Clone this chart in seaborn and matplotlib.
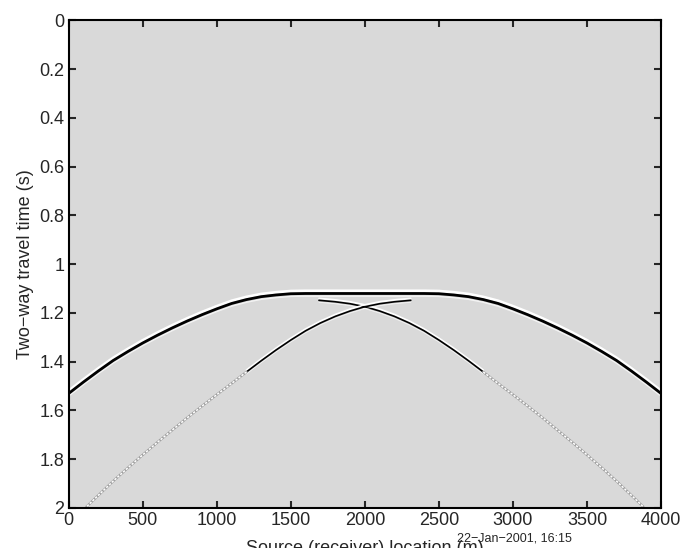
import matplotlib
matplotlib.use("Agg")
import seaborn as sns
from matplotlib import pyplot as plt

# main reflection (source/receiver location in m, two-way time in s)
main_x = [0, 100, 200, 300, 400, 500, 600, 700, 800, 900, 1000, 1100, 1200, 1300, 1400, 1500, 1600,
          2000,
          2400, 2500, 2600, 2700, 2800, 2900, 3000, 3100, 3200, 3300, 3400, 3500, 3600, 3700, 3800, 3900, 4000]
main_t = [1.53, 1.483, 1.438, 1.395, 1.358, 1.323, 1.291, 1.261, 1.233, 1.207, 1.183, 1.161, 1.145,
          1.133, 1.126, 1.121, 1.12,
          1.12,
          1.12, 1.121, 1.126, 1.133, 1.145, 1.161, 1.183, 1.207, 1.233, 1.261, 1.291, 1.323, 1.358,
          1.395, 1.438, 1.483, 1.53]

# crossing branches under the flat top
right_x = [1690, 1800, 1900, 2005, 2100, 2200, 2300, 2400, 2500, 2600, 2700, 2800,
           2900, 3000, 3100, 3200, 3300, 3400, 3500, 3600, 3700, 3800, 3880]
right_t = [1.148, 1.154, 1.162, 1.175, 1.192, 1.214, 1.241, 1.273, 1.311, 1.352, 1.396, 1.442,
           1.489, 1.535, 1.582, 1.63, 1.68, 1.73, 1.782, 1.835, 1.89, 1.948, 1.995]
left_x = [2310, 2200, 2100, 1995, 1900, 1800, 1700, 1600, 1500, 1400, 1300, 1200,
          1100, 1000, 900, 800, 700, 600, 500, 400, 300, 200, 120]
left_t = [1.148, 1.154, 1.162, 1.175, 1.192, 1.214, 1.241, 1.273, 1.311, 1.352, 1.396, 1.442,
          1.489, 1.535, 1.582, 1.63, 1.68, 1.73, 1.782, 1.835, 1.89, 1.948, 1.995]

x_ticks = [0, 500, 1000, 1500, 2000, 2500, 3000, 3500, 4000]
y_ticks = [0, 0.2, 0.4, 0.6, 0.8, 1, 1.2, 1.4, 1.6, 1.8, 2]
y_labels = ['0', '0.2', '0.4', '0.6', '0.8', '1', '1.2', '1.4', '1.6', '1.8', '2']

sns.set_style("ticks")
plt.rcParams['font.family'] = ['Liberation Sans', 'DejaVu Sans']
plt.rcParams['font.size'] = 13

fig = plt.figure(figsize=(6.85, 5.48), dpi=100)
ax = fig.add_axes([0.1003, 0.073, 0.8647, 0.8896])
ax.set_facecolor('#d9d9d9')

def wavelet(xs, ts, lw, shift):
    up = [t - shift for t in ts]
    down = [t + shift for t in ts]
    sns.lineplot(x=xs, y=up, ax=ax, color='white', lw=lw, sort=False, estimator=None)
    sns.lineplot(x=xs, y=down, ax=ax, color='white', lw=lw * 0.5, alpha=0.7, sort=False, estimator=None)
    sns.lineplot(x=xs, y=ts, ax=ax, color='black', lw=lw, sort=False, estimator=None)

def faint(xs, ts):
    sns.lineplot(x=xs, y=ts, ax=ax, color='#a0a0a0', lw=1.8, sort=False, estimator=None)
    sns.lineplot(x=xs, y=ts, ax=ax, color='white', lw=1.1, ls=(0, (1.5, 1)), sort=False, estimator=None)

wavelet(main_x, main_t, 2.0, 0.011)
n = 12
wavelet(right_x[:n], right_t[:n], 1.2, 0.008)
wavelet(left_x[:n], left_t[:n], 1.2, 0.008)
faint(right_x[n - 1:], right_t[n - 1:])
faint(left_x[n - 1:], left_t[n - 1:])

ax.set_xlim(0, 4000)
ax.set_ylim(2, 0)
ax.set_xticks(x_ticks)
ax.set_yticks(y_ticks)
ax.set_yticklabels(y_labels)
ax.tick_params(direction='in', length=5, width=1.5, top=True, right=True, pad=3)
for s in ax.spines.values():
    s.set_linewidth(1.5)
    s.set_color('black')

ax.set_ylabel('Two\u2212way travel time (s)', labelpad=4)
ax.set_xlabel('Source (receiver) location (m)', labelpad=8)
fig.text(0.667, 0.012, '22\u2212Jan\u22122001, 16:15', fontsize=9)

fig.savefig('out.png', dpi=100)
